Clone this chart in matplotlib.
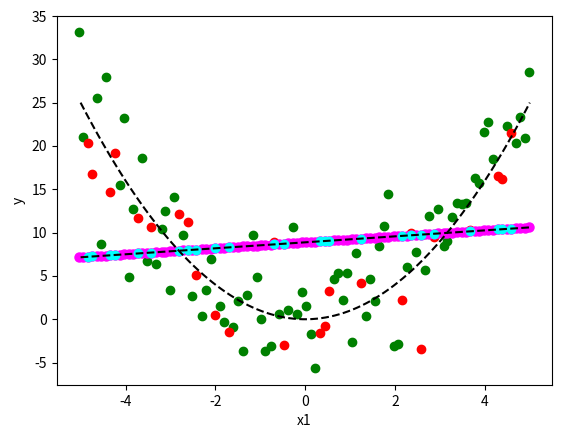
import numpy as np
import matplotlib
matplotlib.use('Agg')
import matplotlib.pyplot as plt

plt.rcParams['font.family'] = ['Noto Sans CJK KR', 'DejaVu Sans']
plt.rcParams['axes.unicode_minus'] = False

# training points (green)
x_train = [-5.03, -4.43, -4.63, -4.03, -4.94, -3.63, -4.12, -2.92, -3.83, -3.12,
           -3.19, -2.72, -4.54, -3.52, -3.32, -3.92, -2.09, -3.01, -2.21, -2.52,
           -1.29, -1.49, -1.89, -2.29, -1.80, -1.60, -0.98, -1.08, -1.17, -0.27,
           -0.58, -0.38, -0.18, -0.06, 0.01, 0.13, -1.38, -0.90, -0.77,
           4.99, 1.85, 4.07, 3.98, 4.78, 4.50, 4.69, 4.90, 4.19, 3.79,
           3.87, 3.37, 3.48, 3.58, 2.96, 2.76, 3.27, 1.76, 3.15, 3.09,
           1.14, 1.64, 2.46, 2.26, 2.67, 0.73, 0.65, 0.94, 1.44, 0.85,
           1.56, 1.35, 1.04, 1.97, 2.06, 0.22]
y_train = [33.1, 28.0, 25.5, 23.2, 21.0, 18.6, 15.5, 14.1, 12.7, 12.45,
           10.4, 9.7, 8.7, 6.7, 6.38, 4.85, 6.9, 3.38, 3.38, 2.65,
           2.77, 2.1, 1.5, 0.42, -0.35, -0.85, 0.03, 4.85, 9.7, 10.65,
           0.57, 1.07, 0.57, 3.1, 1.5, -1.7, -3.7, -3.7, -3.08,
           28.5, 14.4, 22.8, 21.6, 23.3, 22.3, 20.3, 20.9, 18.46, 16.27,
           15.7, 13.45, 13.3, 13.45, 12.7, 11.9, 11.77, 10.77, 9.07, 8.46,
           7.6, 8.46, 7.77, 6.0, 5.69, 5.3, 4.6, 5.3, 4.6, 2.23,
           2.1, 0.38, -2.65, -3.08, -2.85, -5.65]

# test points (red)
x_test = [-4.83, -4.74, -4.34, -4.23, -3.72, -3.43, -2.81, -2.61, -2.42, -2.00,
          -1.69, -0.69, -0.47, 0.34, 0.44, 0.53, 1.24, 2.16, 2.35, 2.57,
          2.87, 3.67, 4.29, 4.38, 4.58]
y_test = [20.4, 16.8, 14.65, 19.15, 11.65, 10.65, 12.2, 11.2, 5.07, 0.46,
          -1.5, 8.88, -2.97, -1.6, -0.77, 3.27, 4.15, 2.23, 10.0, -3.46,
          9.5, 10.3, 16.57, 16.2, 21.5]

# linear fit
intercept = 8.88
slope = 0.345

x_range = np.linspace(-5, 5, 100)

fig = plt.figure(figsize=(5.62, 4.38), dpi=100)
ax = fig.add_axes([0.1009, 0.121, 0.8819, 0.8432])

ax.scatter(x_train, y_train, c='green')
ax.scatter(x_test, y_test, c='red')

x_all = np.sort(np.concatenate([x_train, x_test]))
xt = np.array(x_test)
ax.plot(x_all, intercept + slope * x_all, 'o', color='magenta', markersize=6.5)
ax.plot(xt, intercept + slope * xt, 'o', color='cyan', markersize=6)
ax.plot(x_range, x_range ** 2, 'k--')
ax.plot([-5, 5], [intercept - 5 * slope, intercept + 5 * slope], 'k--')

ax.set_xlabel('x1')
ax.set_ylabel('y')

fig.savefig('out.png')
